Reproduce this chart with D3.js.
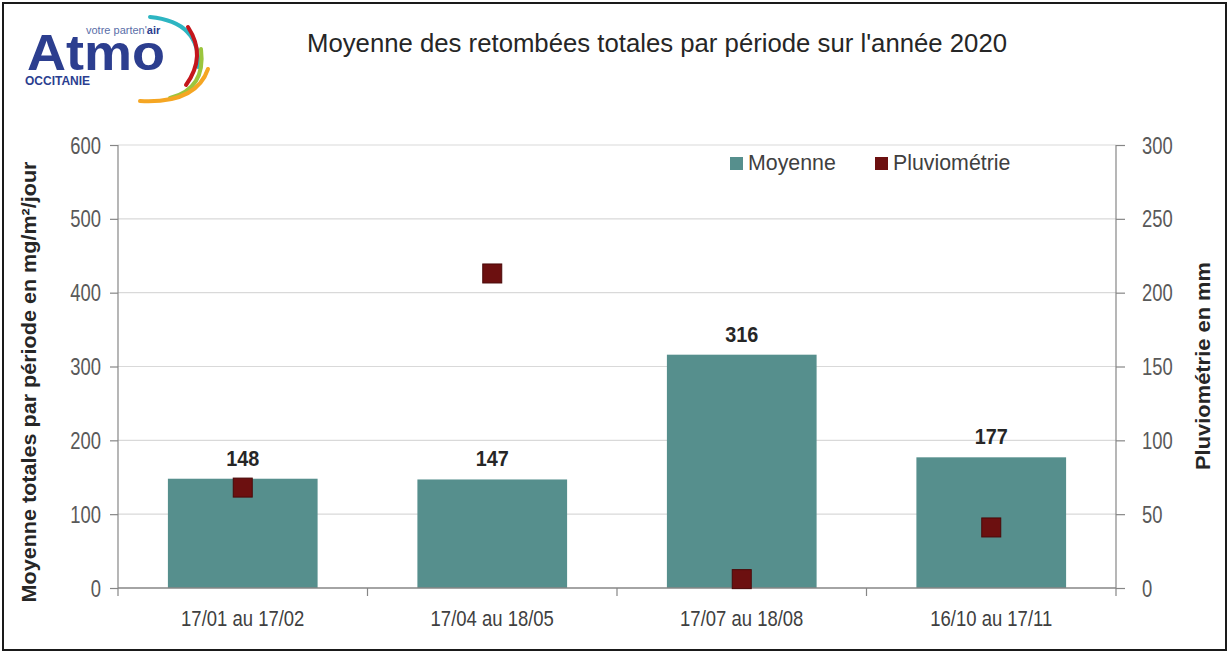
<!DOCTYPE html>
<html>
<head>
<meta charset="utf-8">
<script src="https://cdn.jsdelivr.net/npm/d3@7"></script>
<style>
  html, body { margin: 0; padding: 0; background: #fff; }
  svg { display: block; }
  text { font-family: "Liberation Sans", Arial, sans-serif; }
</style>
</head>
<body>
<svg id="chart" width="1229" height="653"></svg>
<script>
// ---- data ----
const categories = ["17/01 au 17/02", "17/04 au 18/05", "17/07 au 18/08", "16/10 au 17/11"];
const moyenne = [148, 147, 316, 177];
const pluviometrie = [68, 213, 6, 41];
const leftTicks = [0, 100, 200, 300, 400, 500, 600];
const rightTicks = [0, 50, 100, 150, 200, 250, 300];
const titleText = "Moyenne des retombées totales par période  sur l'année 2020";
const leftAxisTitle = "Moyenne totales par période en mg/m²/jour";
const rightAxisTitle = "Pluviométrie en mm";
const legendLabels = ["Moyenne", "Pluviométrie"];

// ---- layout ----
const W = 1229, H = 653;
const plot = { left: 118, right: 1116, top: 145, bottom: 588 };
const barColor = "#568f8d";
const dotColor = "#6c1010";
const svg = d3.select("#chart");

function condense(sel, f) {
  sel.each(function () {
    const len = this.getComputedTextLength();
    d3.select(this).attr("textLength", len * f).attr("lengthAdjust", "spacingAndGlyphs");
  });
}

svg.append("rect").attr("width", W).attr("height", H).attr("fill", "#fff");
// outer border
svg.append("rect").attr("x", 3).attr("y", 3).attr("width", 1223).attr("height", 647)
  .attr("fill", "none").attr("stroke", "#1a1a1a").attr("stroke-width", 2);

// ---- scales ----
const x = d3.scaleBand().domain(categories).range([plot.left, plot.right])
  .paddingInner(0.4).paddingOuter(0.2);
const yL = d3.scaleLinear().domain([0, 600]).range([plot.bottom, plot.top]);
const yR = d3.scaleLinear().domain([0, 300]).range([plot.bottom, plot.top]);

// gridlines
svg.append("g").selectAll("line").data(leftTicks.filter(d => d > 0)).join("line")
  .attr("x1", plot.left).attr("x2", plot.right)
  .attr("y1", d => yL(d)).attr("y2", d => yL(d))
  .attr("stroke", "#d9d9d9").attr("stroke-width", 1.2);

// bars
svg.append("g").selectAll("rect").data(categories).join("rect")
  .attr("x", d => x(d)).attr("width", x.bandwidth())
  .attr("y", (d, i) => yL(moyenne[i]))
  .attr("height", (d, i) => plot.bottom - yL(moyenne[i]))
  .attr("fill", barColor);

// axes
const axisColor = "#868686";
const gL = svg.append("g").attr("transform", `translate(${plot.left},0)`)
  .call(d3.axisLeft(yL).tickValues(leftTicks).tickSize(8).tickPadding(9).tickFormat(d3.format("d")));
const gR = svg.append("g").attr("transform", `translate(${plot.right},0)`)
  .call(d3.axisRight(yR).tickValues(rightTicks).tickSize(9).tickPadding(17).tickFormat(d3.format("d")));
[gL, gR].forEach(g => {
  g.select(".domain").remove();
  g.selectAll("line").attr("stroke", axisColor).attr("stroke-width", 1.2);
  g.selectAll("text").attr("font-size", 23).attr("fill", "#595959")
    .attr("font-family", "'Liberation Sans', Arial, sans-serif").attr("dy", "0.35em");
});
condense(gL.selectAll("text"), 0.8);
condense(gR.selectAll("text"), 0.8);

// axis lines
svg.append("line").attr("x1", plot.left).attr("x2", plot.left).attr("y1", plot.top).attr("y2", plot.bottom + 8)
  .attr("stroke", axisColor).attr("stroke-width", 1.2);
svg.append("line").attr("x1", plot.right).attr("x2", plot.right).attr("y1", plot.top).attr("y2", plot.bottom + 8)
  .attr("stroke", axisColor).attr("stroke-width", 1.2);
svg.append("line").attr("x1", plot.left).attr("x2", plot.right).attr("y1", plot.bottom).attr("y2", plot.bottom)
  .attr("stroke", axisColor).attr("stroke-width", 1.4);

// category separators on x axis
const step = x.step();
const sepX = d3.range(1, categories.length).map(i => x(categories[i]) - x.paddingInner() * step / 2);
svg.append("g").selectAll("line").data(sepX).join("line")
  .attr("x1", d => d).attr("x2", d => d).attr("y1", plot.bottom).attr("y2", plot.bottom + 8)
  .attr("stroke", axisColor).attr("stroke-width", 1.2);

// x labels
const xl = svg.append("g").selectAll("text").data(categories).join("text")
  .attr("x", d => x(d) + x.bandwidth() / 2).attr("y", 626)
  .attr("text-anchor", "middle").attr("font-size", 22).attr("fill", "#404040")
  .text(d => d);
condense(xl, 0.84);

// data labels
const dl = svg.append("g").selectAll("text").data(categories).join("text")
  .attr("x", d => x(d) + x.bandwidth() / 2).attr("y", (d, i) => yL(moyenne[i]) - 13)
  .attr("text-anchor", "middle").attr("font-size", 22).attr("font-weight", "bold").attr("fill", "#262626")
  .text((d, i) => moyenne[i]);
condense(dl, 0.9);

// pluviometrie markers
const ms = 19;
svg.append("g").selectAll("rect").data(categories).join("rect")
  .attr("x", d => x(d) + x.bandwidth() / 2 - ms / 2)
  .attr("y", (d, i) => yR(pluviometrie[i]) - ms / 2)
  .attr("width", ms).attr("height", ms)
  .attr("fill", dotColor).attr("stroke", "#4a0808").attr("stroke-width", 1);

// title
svg.append("text").attr("x", 657).attr("y", 52).attr("text-anchor", "middle")
  .attr("font-size", 26.5).attr("fill", "#262626")
  .attr("textLength", 700).attr("lengthAdjust", "spacingAndGlyphs")
  .text(titleText);

// axis titles
svg.append("text").attr("transform", "translate(36,382) rotate(-90)")
  .attr("text-anchor", "middle").attr("font-size", 20).attr("font-weight", "bold").attr("fill", "#262626")
  .attr("textLength", 441).attr("lengthAdjust", "spacingAndGlyphs")
  .text(leftAxisTitle);
svg.append("text").attr("transform", "translate(1210,366) rotate(-90)")
  .attr("text-anchor", "middle").attr("font-size", 20).attr("font-weight", "bold").attr("fill", "#262626")
  .attr("textLength", 208).attr("lengthAdjust", "spacingAndGlyphs")
  .text(rightAxisTitle);

// legend
const legendX = [730, 875];
const legendColors = [barColor, dotColor];
const lg = svg.append("g");
legendLabels.forEach((lab, i) => {
  lg.append("rect").attr("x", legendX[i]).attr("y", 157).attr("width", 13).attr("height", 13)
    .attr("fill", legendColors[i]);
  lg.append("text").attr("x", legendX[i] + 18).attr("y", 170)
    .attr("font-size", 22).attr("fill", "#404040").text(lab);
});
condense(lg.selectAll("text"), 0.97);

// logo
const logo = svg.append("g");
const arcs = [
  { d: "M150,17 Q201,22 198,67", c: "#2db5c2" },
  { d: "M188,27 Q207,56 186,85", c: "#c4161c" },
  { d: "M201,49 Q206,89 170,98", c: "#9bc53d" },
  { d: "M208,69 Q196,104 140,101", c: "#f5a623" }
];
logo.selectAll("path").data(arcs).join("path")
  .attr("d", d => d.d).attr("fill", "none").attr("stroke", d => d.c)
  .attr("stroke-width", 4).attr("stroke-linecap", "round");
logo.append("text").attr("x", 27).attr("y", 70).attr("font-size", 50).attr("font-weight", "bold")
  .attr("fill", "#2c3e8f").attr("textLength", 138).attr("lengthAdjust", "spacingAndGlyphs").text("Atmo");
const vp = logo.append("text").attr("x", 86).attr("y", 34).attr("font-size", 11).attr("fill", "#5a6ea8");
vp.append("tspan").text("votre parten'");
vp.append("tspan").attr("font-weight", "bold").attr("fill", "#2c3e8f").text("air");
logo.append("text").attr("x", 25).attr("y", 85).attr("font-size", 12).attr("font-weight", "bold")
  .attr("fill", "#2c3e8f").text("OCCITANIE");
</script>
</body>
</html>
